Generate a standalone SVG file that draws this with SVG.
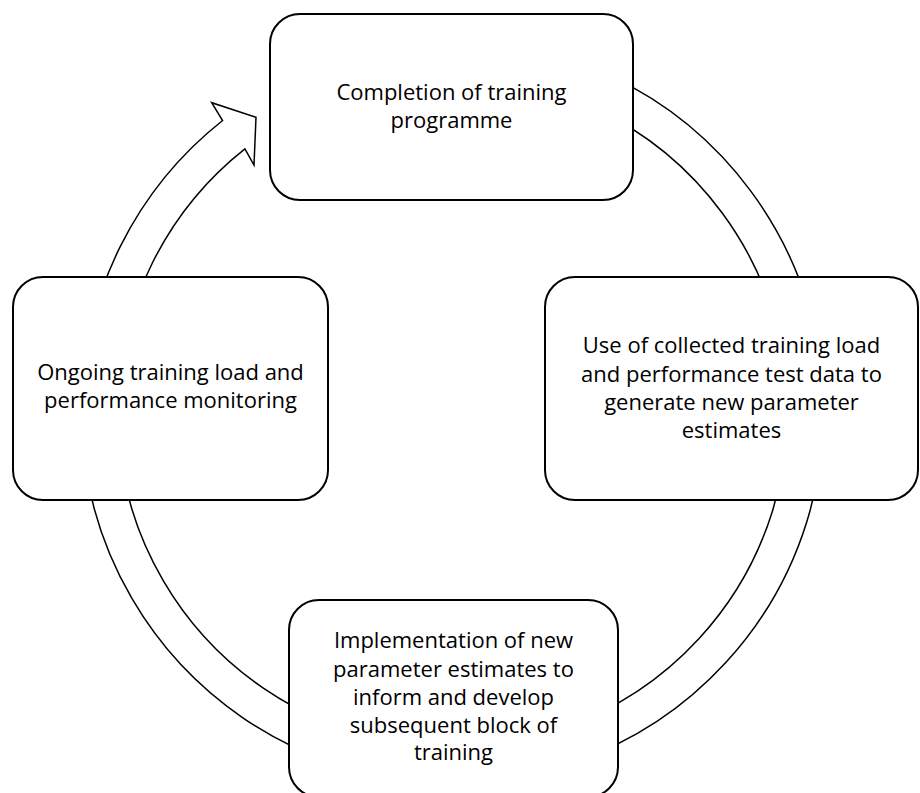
<svg xmlns="http://www.w3.org/2000/svg" width="920" height="793" viewBox="0 0 920 793">
  <style>
    .box { fill: #ffffff; stroke: #000000; stroke-width: 2; }
    .ring { fill: #ffffff; stroke: #000000; stroke-width: 1.5; stroke-linejoin: miter; }
    .lbl { font-family: "Open Sans", "Liberation Sans", sans-serif; font-size: 22px; fill: #000000; text-anchor: middle; }
  </style>
  <rect x="0" y="0" width="920" height="793" fill="#ffffff"/>
  <g id="connectors">
    <path class="ring" d="M 452.5 40.7 A 371 371 0 1 1 222.6 120.5 L 211.7 102.7 L 256 117.3 L 254 165 L 244.9 148.8 A 335 335 0 1 0 452.5 76.7 Z"/>
  </g>
  <g id="node-top">
    <rect class="box" x="270" y="14" width="363" height="186" rx="30" ry="30"/>
    <text class="lbl" x="451.5" y="100">Completion of training<tspan x="451.5" dy="28">programme</tspan></text>
  </g>
  <g id="node-right">
    <rect class="box" x="545" y="277" width="373" height="223" rx="30" ry="30"/>
    <text class="lbl" x="731.5" y="353">Use of collected training load<tspan x="731.5" dy="28.5">and performance test data to</tspan><tspan x="731.5" dy="28.5">generate new parameter</tspan><tspan x="731.5" dy="28">estimates</tspan></text>
  </g>
  <g id="node-bottom">
    <rect class="box" x="289" y="600" width="329" height="197" rx="30" ry="30"/>
    <text class="lbl" x="453.5" y="648">Implementation of new<tspan x="453.5" dy="28.5">parameter estimates to</tspan><tspan x="453.5" dy="28">inform and develop</tspan><tspan x="453.5" dy="28">subsequent block of</tspan><tspan x="453.5" dy="27.5">training</tspan></text>
  </g>
  <g id="node-left">
    <rect class="box" x="13" y="277" width="315" height="223" rx="30" ry="30"/>
    <text class="lbl" x="170.5" y="380">Ongoing training load and<tspan x="170.5" dy="28">performance monitoring</tspan></text>
  </g>
</svg>
